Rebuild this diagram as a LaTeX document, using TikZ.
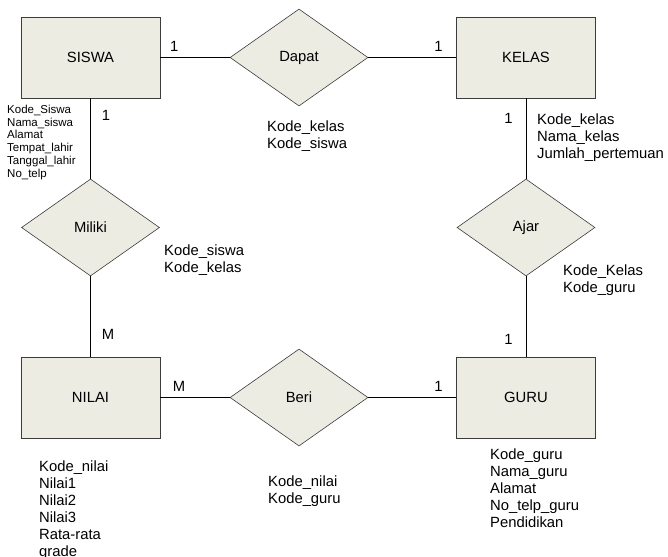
\documentclass[tikz,border=0pt]{standalone}
\usepackage{fontspec}
\setmainfont{Liberation Sans}
\usepackage{tikz}
\usetikzlibrary{shapes.geometric, arrows, positioning}

\definecolor{isi}{RGB}{236,236,226}
\definecolor{garis}{RGB}{60,60,60}

\tikzset{
  entitas/.style={rectangle, draw=garis, fill=isi, line width=0.9pt, minimum width=139pt, minimum height=81pt, font=\fontsize{14.8}{17}\selectfont},
  relasi/.style={diamond, draw=garis, fill=isi, line width=0.6pt, aspect=1.42, minimum width=138pt, minimum height=97pt, inner sep=0pt, font=\fontsize{14.8}{17}\selectfont},
  atribut/.style={anchor=north west, inner sep=0pt, align=left, font=\fontsize{14.8}{17}\selectfont},
  atributkecil/.style={anchor=north west, inner sep=0pt, align=left, font=\fontsize{11.5}{12.7}\selectfont},
  kard/.style={font=\fontsize{14.8}{17}\selectfont, inner sep=0pt}
}

\begin{document}
\begin{tikzpicture}[x=1pt, y=1pt, node distance=170pt, auto]
        \useasboundingbox (0,0) rectangle (668,-556);
        % Entitas dan relasi
        \node[entitas] (siswa) at (90.5,-57.5) {SISWA};
        \node[relasi, right of=siswa, xshift=38.5pt] (dapat) {Dapat};
        \node[entitas, right of=dapat, xshift=57pt] (kelas) {KELAS};
        \node[relasi, below of=siswa] (miliki) {Miliki};
        \node[relasi, below of=kelas] (ajar) {Ajar};
        \node[entitas, below of=miliki] (nilai) {NILAI};
        \node[relasi, below of=dapat, yshift=-170pt] (beri) {Beri};
        \node[entitas, below of=ajar] (guru) {GURU};

        % Garis penghubung
        \draw[line width=0.6pt] (siswa) -- node[kard, pos=0.2, above=6pt] {1} (dapat);
        \draw[line width=0.6pt] (dapat) -- node[kard, pos=0.8, above=6pt] {1} (kelas);
        \draw[line width=0.6pt] (siswa) -- node[kard, pos=0.21, right=11pt] {1} (miliki);
        \draw[line width=0.6pt] (miliki) -- node[kard, pos=0.73, right=11pt] {M} (nilai);
        \draw[line width=0.6pt] (kelas) -- node[kard, pos=0.25, left=13pt] {1} (ajar);
        \draw[line width=0.6pt] (ajar) -- node[kard, pos=0.79, left=13pt] {1} (guru);
        \draw[line width=0.6pt] (nilai) -- node[kard, pos=0.27, above=6pt] {M} (beri);
        \draw[line width=0.6pt] (beri) -- node[kard, pos=0.8, above=6pt] {1} (guru);

        % Atribut
        \node[atributkecil] (atrsiswa) at (7,-105) {Kode\_Siswa\\Nama\_siswa\\Alamat\\Tempat\_lahir\\Tanggal\_lahir\\No\_telp};
        \node[atribut] (atrdapat) at (267,-120.5) {Kode\_kelas\\Kode\_siswa};
        \node[atribut] (atrkelas) at (537,-113.5) {Kode\_kelas\\Nama\_kelas\\Jumlah\_pertemuan};
        \node[atribut] (atrmiliki) at (164,-244.5) {Kode\_siswa\\Kode\_kelas};
        \node[atribut] (atrajar) at (563,-264.5) {Kode\_Kelas\\Kode\_guru};
        \node[atribut] (atrnilai) at (39,-460.5) {Kode\_nilai\\Nilai1\\Nilai2\\Nilai3\\Rata-rata\\grade};
        \node[atribut] (atrberi) at (268,-475.5) {Kode\_nilai\\Kode\_guru};
        \node[atribut] (atrguru) at (490,-448.5) {Kode\_guru\\Nama\_guru\\Alamat\\No\_telp\_guru\\Pendidikan};
    \end{tikzpicture}
\end{document}
